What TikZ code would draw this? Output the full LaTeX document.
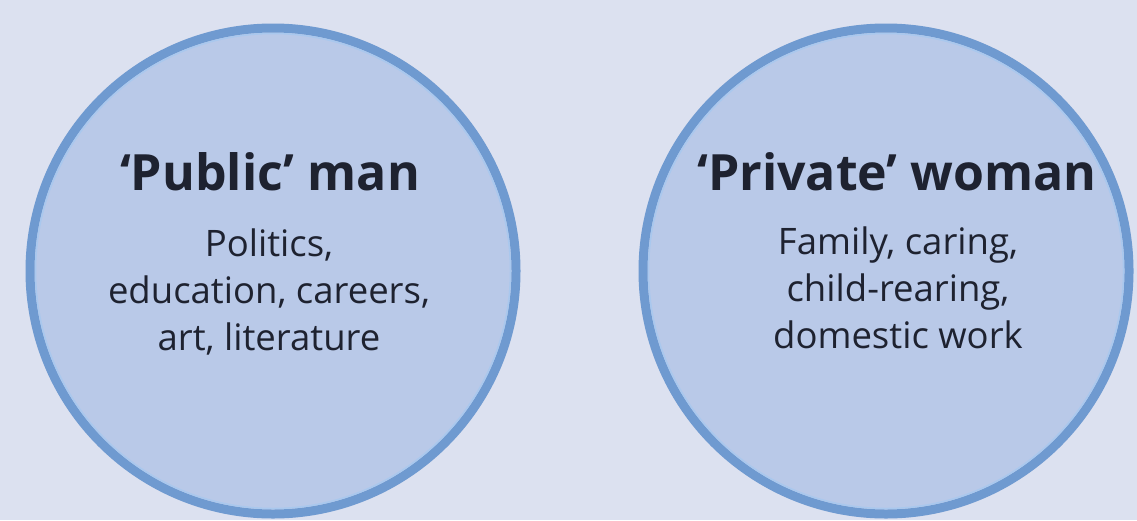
\documentclass[tikz,border=0pt]{standalone}
\usepackage{fontspec}
\setmainfont{Open Sans}[Ligatures={NoCommon}]
\definecolor{bg}{HTML}{DCE1F0}
\definecolor{disc}{HTML}{B9C9E8}
\definecolor{rim}{HTML}{6F9AD0}
\definecolor{halo}{HTML}{A9C8EE}
\definecolor{ink}{HTML}{1E2230}
\tikzset{
  sphere/.style={circle, fill=disc, draw=rim, line width=9pt, minimum size=486pt, inner sep=0pt},
  headtext/.style={font=\fontsize{50}{56}\selectfont\bfseries, text=ink, anchor=base, inner sep=0pt},
  bodytext/.style={font=\fontsize{36.5}{47}\selectfont, text=ink, align=center, anchor=base, inner sep=0pt}
}
\begin{document}
\begin{tikzpicture}[x=1pt,y=-1pt]
\useasboundingbox (0,0) rectangle (1137,520);
\fill[bg] (0,0) rectangle (1137,520);
\begin{scope}
\clip (0,0) rectangle (1137,520);
\node[sphere] (left) at (273,271) {};
\node[sphere] (right) at (886,271) {};
\draw[halo, line width=1.5pt] (273,271) circle (237.5pt);
\draw[halo, line width=1.5pt] (886,271) circle (237.5pt);
\end{scope}
\node[headtext] (lh) at (270,190) {`Public' man};
\node[bodytext] (lb) at (269,350) {Politics,\\education, careers,\\art, literature};
\node[headtext] (rh) at (897,190) {`Private' woman};
\node[bodytext] (rb) at (898,348) {Family, caring,\\child-rearing,\\domestic work};
\end{tikzpicture}
\end{document}
